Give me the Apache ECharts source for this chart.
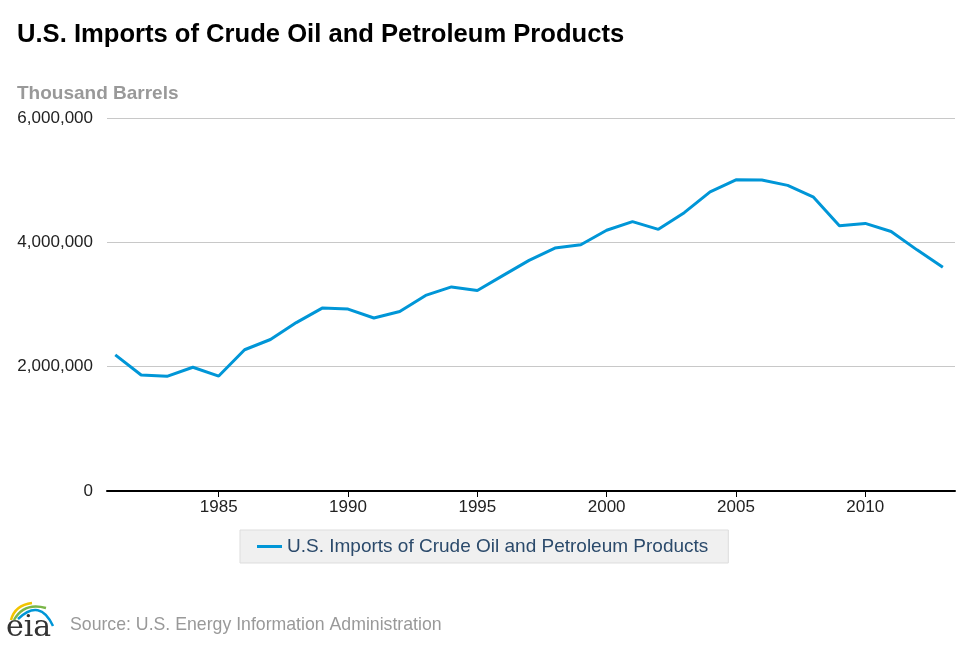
<!DOCTYPE html>
<html>
<head>
<meta charset="utf-8">
<script src="https://cdn.jsdelivr.net/npm/echarts@6/dist/echarts.min.js"></script>
<style>html,body{margin:0;padding:0;background:#fff}#c{width:970px;height:647px}</style>
</head>
<body>
<div id="c"></div>
<script>
const years = [1981,1982,1983,1984,1985,1986,1987,1988,1989,1990,1991,1992,1993,1994,1995,1996,1997,1998,1999,2000,2001,2002,2003,2004,2005,2006,2007,2008,2009,2010,2011,2012,2013];
const imports = [2189000,1866000,1844000,1990000,1849000,2272000,2437000,2709000,2942000,2926000,2783000,2887000,3146000,3283000,3225000,3469000,3709000,3908000,3961000,4194000,4333000,4209000,4477000,4811000,5006000,5003000,4916000,4727000,4267000,4304000,4174000,3879000,3599000];
const xTicks = [1985,1990,1995,2000,2005,2010];
const yTicks = [0,2000000,4000000,6000000];
const seriesName = 'U.S. Imports of Crude Oil and Petroleum Products';

const chart = echarts.init(document.getElementById('c'));
const font = 'Liberation Sans, Arial, sans-serif';
chart.setOption({
  animation: false,
  title: [
    {text: 'U.S. Imports of Crude Oil and Petroleum Products', left: 12, top: 17,
     textStyle: {fontFamily: font, fontSize: 25.6, fontWeight: 'bold', color: '#000'}},
    {text: 'Thousand Barrels', left: 12, top: 79,
     textStyle: {fontFamily: font, fontSize: 19, fontWeight: 'bold', color: '#999'}}
  ],
  grid: {left: 107, right: 15, top: 118, bottom: 156, containLabel: false},
  legend: {
    top: 530, left: 240,
    data: [{name: seriesName, icon: 'rect'}],
    itemWidth: 25, itemHeight: 3, itemGap: 8,
    padding: [7, 20, 7, 17],
    backgroundColor: '#f0f0f0', borderColor: '#ddd', borderWidth: 1,
    textStyle: {fontFamily: font, fontSize: 19, color: '#2b4a6b'}
  },
  xAxis: {
    type: 'value', min: 1980.68, max: 2013.47,
    splitLine: {show: false},
    axisLine: {lineStyle: {color: '#000', width: 2}},
    axisTick: {show: true, customValues: xTicks, length: 6, lineStyle: {color: '#000'}},
    axisLabel: {customValues: xTicks, fontFamily: font, fontSize: 17, color: '#222', margin: 8,
      formatter: v => String(v)}
  },
  yAxis: {
    type: 'value', min: 0, max: 6000000, interval: 2000000,
    axisLine: {show: false}, axisTick: {show: false},
    splitLine: {lineStyle: {color: '#c8c8c8', width: 1}},
    axisLabel: {fontFamily: font, fontSize: 17, color: '#222', margin: 14,
      formatter: v => v.toLocaleString('en-US')}
  },
  series: [{
    name: seriesName, type: 'line',
    data: years.map((y, i) => [y, imports[i]]),
    showSymbol: false, symbol: 'none',
    lineStyle: {color: '#0096d7', width: 3},
    itemStyle: {color: '#0096d7'}
  }],
  graphic: [
    {type: 'text', left: 70, top: 616, style: {text: 'Source: U.S. Energy Information Administration',
      font: '17.7px ' + font, fill: '#999'}},
    {type: 'text', left: 6, top: 613, style: {text: 'eia', font: '30px "DejaVu Serif", serif', fill: '#333'}},
    {type: 'bezierCurve', shape: {x1: 11, y1: 620, cpx1: 15, cpy1: 605, x2: 32, y2: 603}, style: {stroke: '#f2c400', lineWidth: 2.5, fill: null}},
    {type: 'bezierCurve', shape: {x1: 14, y1: 620, cpx1: 24, cpy1: 602, x2: 46, y2: 608}, style: {stroke: '#7ab648', lineWidth: 2.5, fill: null}},
    {type: 'bezierCurve', shape: {x1: 18, y1: 619, cpx1: 40, cpy1: 598, x2: 53, y2: 626}, style: {stroke: '#0096d7', lineWidth: 2.5, fill: null}}
  ]
});
</script>
</body>
</html>
